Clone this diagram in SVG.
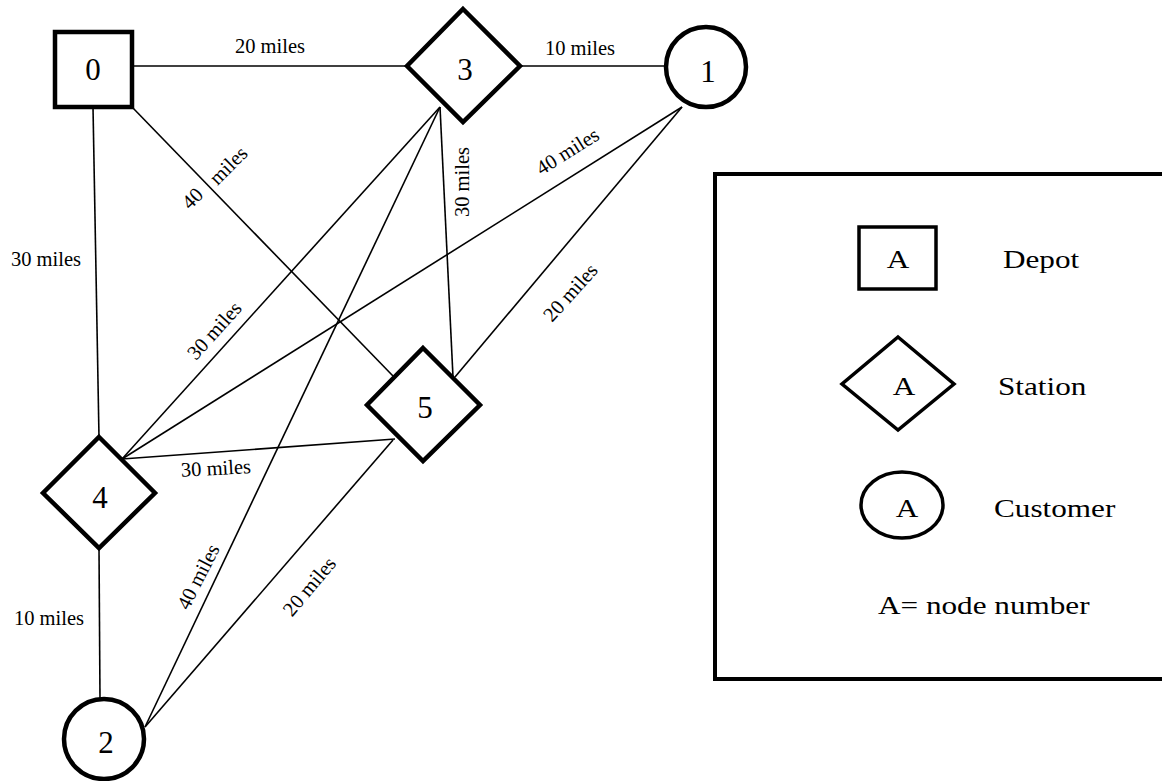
<svg xmlns="http://www.w3.org/2000/svg" width="1162" height="781" viewBox="0 0 1162 781">
<style>
.node{fill:#fff;stroke:#000;stroke-width:4.5;stroke-linejoin:miter}
.leg{fill:#fff;stroke:#000;stroke-width:3.5}
.edge{stroke:#000;stroke-width:1.6;fill:none}
.num{font-family:"Liberation Serif","Times New Roman",serif;font-size:31px;text-anchor:middle;fill:#000}
.lbl{font-family:"Liberation Serif","Times New Roman",serif;font-size:20.5px;text-anchor:middle;fill:#000}
.lt{font-family:"Liberation Serif","Times New Roman",serif;font-size:26px;fill:#000}
</style>
<rect width="1162" height="781" fill="#fff"/>
<g id="connectors">
<line class="edge" x1="132" y1="66" x2="407" y2="66"/>
<line class="edge" x1="520" y1="66" x2="665" y2="66"/>
<line class="edge" x1="93" y1="107" x2="99" y2="437"/>
<line class="edge" x1="132" y1="107" x2="393" y2="376"/>
<line class="edge" x1="440" y1="107" x2="122" y2="459"/>
<line class="edge" x1="440" y1="107" x2="145" y2="727"/>
<line class="edge" x1="440" y1="107" x2="453" y2="377"/>
<line class="edge" x1="682" y1="107" x2="122" y2="459"/>
<line class="edge" x1="682" y1="107" x2="455" y2="377"/>
<line class="edge" x1="122" y1="459" x2="395" y2="439"/>
<line class="edge" x1="393" y1="440" x2="145" y2="727"/>
<line class="edge" x1="99" y1="548" x2="100" y2="700"/>
<text class="lbl" x="270" y="53">20 miles</text>
<text class="lbl" x="580" y="55">10 miles</text>
<text class="lbl" x="46" y="266">30 miles</text>
<text class="lbl" x="49" y="625">10 miles</text>
<text class="lbl" transform="translate(193,199) rotate(-45)" y="6">40</text>
<text class="lbl" transform="translate(229,166) rotate(-45)" y="6">miles</text>
<text class="lbl" transform="translate(215,331) rotate(-48)" y="6">30 miles</text>
<text class="lbl" transform="translate(463,182) rotate(-90)" y="6">30 miles</text>
<text class="lbl" transform="translate(568,152) rotate(-32)" y="6">40 miles</text>
<text class="lbl" transform="translate(571,293) rotate(-48)" y="6">20 miles</text>
<text class="lbl" transform="translate(216,469) rotate(-3)" y="6">30 miles</text>
<text class="lbl" transform="translate(199,577) rotate(-63)" y="6">40 miles</text>
<text class="lbl" transform="translate(310,587) rotate(-50)" y="6">20 miles</text>
</g>
<g id="node0">
<rect class="node" x="55" y="32" width="77" height="75"/>
<text class="num" x="93" y="80">0</text>
</g>
<g id="node3">
<polygon class="node" points="463,9 520,66 463,122 407,66"/>
<text class="num" x="465" y="80">3</text>
</g>
<g id="node1">
<circle class="node" cx="706" cy="67" r="40"/>
<text class="num" x="708" y="82">1</text>
</g>
<g id="node4">
<polygon class="node" points="99,437 155,493 99,548 43,493"/>
<text class="num" x="100" y="508">4</text>
</g>
<g id="node5">
<polygon class="node" points="423,348 480,405 423,461 367,405"/>
<text class="num" x="425" y="418">5</text>
</g>
<g id="node2">
<circle class="node" cx="104" cy="739" r="40"/>
<text class="num" x="106" y="753">2</text>
</g>
<g id="legend">
<rect x="715" y="174" width="460" height="505" fill="none" stroke="#000" stroke-width="4"/>
<rect class="leg" x="859" y="227" width="77" height="62"/>
<text class="lt" text-anchor="middle" transform="translate(898,268) scale(1.2,1)">A</text>
<text class="lt" transform="translate(1003,268) scale(1.2,1)">Depot</text>
<polygon class="leg" points="898,337 954,384 898,430 842,384"/>
<text class="lt" text-anchor="middle" transform="translate(904,395) scale(1.2,1)">A</text>
<text class="lt" transform="translate(998,395) scale(1.2,1)">Station</text>
<ellipse class="leg" cx="902" cy="505" rx="41" ry="33"/>
<text class="lt" text-anchor="middle" transform="translate(907,517) scale(1.2,1)">A</text>
<text class="lt" transform="translate(994,517) scale(1.2,1)">Customer</text>
<text class="lt" transform="translate(878,614) scale(1.2,1)">A= node number</text>
</g>
</svg>
